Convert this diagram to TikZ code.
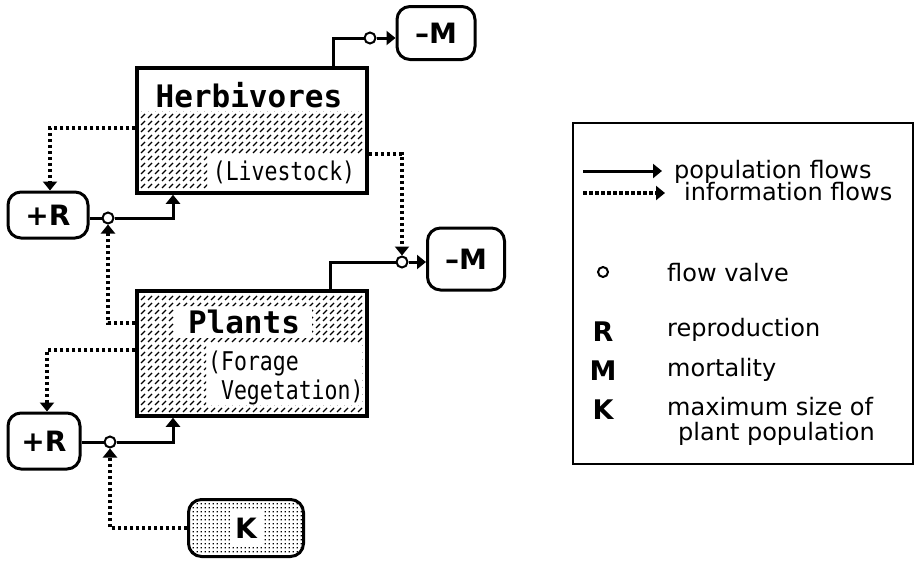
\documentclass[tikz,border=0pt]{standalone}
\usepackage{fontspec}
\setmainfont{DejaVu Sans}
\newfontfamily\boxfont{DejaVu Sans Mono}
\usetikzlibrary{arrows.meta,patterns}

\pgfdeclarepatternformonly{hatchdash}{\pgfqpoint{-1pt}{-1pt}}{\pgfqpoint{8pt}{8pt}}{\pgfqpoint{7pt}{7pt}}{%
  \pgfsetlinewidth{1.2pt}%
  \pgfpathmoveto{\pgfqpoint{1pt}{1pt}}\pgfpathlineto{\pgfqpoint{5pt}{5pt}}\pgfusepath{stroke}}
\pgfdeclarepatternformonly{kdots}{\pgfqpoint{0pt}{0pt}}{\pgfqpoint{4pt}{4pt}}{\pgfqpoint{4pt}{4pt}}{%
  \pgfpathrectangle{\pgfqpoint{0.8pt}{0.8pt}}{\pgfqpoint{1.6pt}{1.6pt}}\pgfusepath{fill}}

\begin{document}
\begin{tikzpicture}[x=1pt,y=-1pt,
  stock/.style={draw, line width=3.5pt, minimum width=230pt, minimum height=125pt, inner sep=0pt},
  term/.style={draw, line width=3pt, rounded corners=13pt, fill=white, inner sep=0pt,
    font=\fontsize{28}{28}\selectfont\bfseries},
  valve/.style={circle, draw, line width=2pt, fill=white, minimum size=11pt, inner sep=0pt},
  popline/.style={line width=3pt},
  pop/.style={line width=3pt, -{Triangle[length=9pt,width=14pt]}},
  info/.style={line width=3.5pt, dash pattern=on 3.5pt off 2.5pt, -{Triangle[length=9pt,width=14pt]}},
  title/.style={font=\boxfont\bfseries\fontsize{31}{31}\selectfont, inner sep=0pt},
  sub/.style={font=\boxfont\fontsize{21.5}{25}\selectfont, inner sep=0pt, align=left},
  legtext/.style={font=\fontsize{24}{24}\selectfont, inner sep=0pt, anchor=base west},
  legsym/.style={font=\fontsize{27}{27}\selectfont\bfseries, inner sep=0pt, anchor=base}
]
\useasboundingbox (0,0) rectangle (915,560);

% ---------- hatch fills ----------
\fill[pattern=hatchdash, even odd rule]
  (140,71) rectangle (364,190)
  (140,71) rectangle (364,111)
  (207,155) rectangle (364,190);
\fill[pattern=hatchdash, even odd rule]
  (140,294) rectangle (364,413)
  (174,306) rectangle (312,338)
  (206,344) rectangle (362,405);

% ---------- stocks ----------
\node[stock] (herb) at (252,130.5) {};
\node[title] (herbt) at (249,95) {Herbivores};
\node[sub] (herbs) at (284,172) {\scalebox{1}[1.2]{(Livestock)}};

\node[stock] (plants) at (252,353.5) {};
\node[title] (plantst) at (244,322) {Plants};
\node[sub, anchor=west] (plantss) at (208,378) {\scalebox{1}[1.2]{(Forage}\\[2pt]\hspace{12.9pt}\scalebox{1}[1.2]{Vegetation)}};

% ---------- terminals ----------
\node[term, minimum width=78pt, minimum height=53pt] (mtop) at (436,33) {\textendash M};
\node[term, minimum width=77pt, minimum height=62pt] (mmid) at (466,259) {\textendash M};
\node[term, minimum width=80pt, minimum height=46pt] (rtop) at (48,215) {+R};
\node[term, minimum width=72pt, minimum height=56pt] (rbot) at (44,441) {+R};
\node[draw, line width=3pt, rounded corners=13pt, pattern=kdots, minimum width=115pt, minimum height=57pt] (kbox) at (246,528) {};
\node[fill=white, inner sep=3pt, minimum width=33pt, minimum height=37pt, font=\fontsize{28}{28}\selectfont\bfseries] (klab) at (kbox.center) {K};

% ---------- valves ----------
\node[valve] (v1) at (370,38) {};
\node[valve] (v2) at (402,262) {};
\node[valve] (v3) at (108,218) {};
\node[valve] (v4) at (110,442) {};

% ---------- population flows ----------
\draw[popline] ([xshift=81pt]herb.north) |- (v1);
\draw[pop] (v1) -- (mtop.west |- v1);
\draw[popline] ([xshift=78pt]plants.north) |- (v2);
\draw[pop] (v2) -- (mmid.west |- v2);
\draw[popline] (rtop.east |- v3) -- (v3);
\draw[pop] (v3) -| ([xshift=-79pt]herb.south);
\draw[popline] (rbot.east |- v4) -- (v4);
\draw[pop] (v4) -| ([xshift=-79pt]plants.south);

% ---------- information flows ----------
\draw[info] ([yshift=2.5pt]herb.west) -| ([xshift=2pt]rtop.north);
\draw[info] ([yshift=-23.5pt]herb.east) -| (v2.north);
\draw[info] ([yshift=30.5pt]plants.west) -| (v3.south);
\draw[info] ([yshift=3.5pt]plants.west) -| ([xshift=3pt]rbot.north);
\draw[info] (kbox.west) -| (v4.south);

% ---------- legend ----------
\node[draw, line width=1.5pt, minimum width=340pt, minimum height=341pt, inner sep=0pt] (legend) at (743,293.5) {};
\coordinate (lpa) at (583,171);
\coordinate (lpb) at (662,171);
\draw[pop] (lpa) -- (lpb);
\node[legtext] (lpt) at (674,178) {population flows};
\coordinate (lia) at (583,193);
\coordinate (lib) at (665,193);
\draw[info] (lia) -- (lib);
\node[legtext] (lit) at (684,200) {information flows};
\node[valve, minimum size=10pt] (lv) at (603,272) {};
\node[legtext] (lvt) at (667,281) {flow valve};
\node[legsym] (lr) at (603,341) {R};
\node[legtext] (lrt) at (667,336) {reproduction};
\node[legsym] (lm) at (603,380) {M};
\node[legtext] (lmt) at (667,376) {mortality};
\node[legsym] (lk) at (603,419) {K};
\node[legtext] (lkt) at (667,415) {maximum size of};
\node[legtext] (lkt2) at (678,440) {plant population};
\end{tikzpicture}
\end{document}
